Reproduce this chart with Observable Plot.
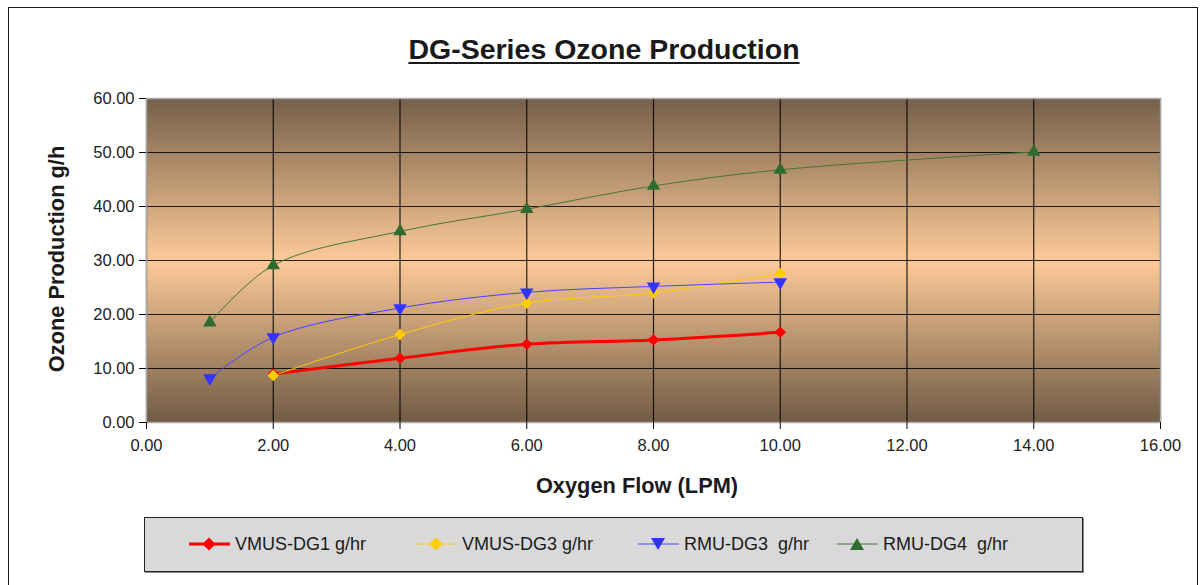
<!DOCTYPE html>
<html>
<head>
<meta charset="utf-8">
<script src="https://cdn.jsdelivr.net/npm/d3@7"></script>
<script src="https://cdn.jsdelivr.net/npm/@observablehq/plot@0.6"></script>
<style>
  html, body { margin: 0; padding: 0; background: #fff; }
  body { width: 1203px; height: 585px; overflow: hidden; position: relative; font-family: "Liberation Sans", Arial, sans-serif; color: #1a1a1a; }
  #outer { position: absolute; left: 8px; top: 7px; width: 1190px; height: 600px; border: 1.5px solid #1a1a1a; box-sizing: border-box; }
  #title { position: absolute; left: 0; width: 1208px; top: 32px; text-align: center; font-size: 28.5px; font-weight: bold; text-decoration: underline; text-underline-offset: 3px; line-height: 34px; }
  #chart { position: absolute; left: 0; top: 0; }
  #ylab { position: absolute; left: 57px; top: 259px; transform: translate(-50%, -50%) rotate(-90deg); font-size: 21.8px; font-weight: bold; white-space: nowrap; }
  #xlab { position: absolute; left: 637px; top: 486px; transform: translate(-50%, -50%); font-size: 21.8px; font-weight: bold; white-space: nowrap; }
  #legend { position: absolute; left: 144px; top: 517px; width: 939px; height: 55px; background: #d9d9d9; border: 1.5px solid #222; box-sizing: border-box; box-shadow: 1px 1px 0 #888; }
  .item { position: absolute; top: 0; height: 52px; display: flex; align-items: center; font-size: 18px; white-space: pre; }
  .item svg { margin-right: 5px; }
</style>
</head>
<body>
<div id="outer"></div>
<div id="title">DG-Series Ozone Production</div>
<div id="chart"></div>
<div id="ylab">Ozone Production g/h</div>
<div id="xlab">Oxygen Flow (LPM)</div>
<div id="legend"></div>
<script>
// ---- data ----
const seriesNames = ["VMUS-DG1 g/hr", "VMUS-DG3 g/hr", "RMU-DG3  g/hr", "RMU-DG4  g/hr"];
const vmusDg1Flow = [2, 4, 6, 8, 10];
const vmusDg1Ozone = [9.0, 11.9, 14.5, 15.3, 16.7];
const vmusDg3Flow = [2, 4, 6, 8, 10];
const vmusDg3Ozone = [8.7, 16.3, 22.1, 24.0, 27.6];
const rmuDg3Flow = [1, 2, 4, 6, 8, 10];
const rmuDg3Ozone = [8.2, 15.8, 21.2, 24.1, 25.2, 26.0];
const rmuDg4Flow = [1, 2, 4, 6, 8, 10, 14];
const rmuDg4Ozone = [18.5, 29.1, 35.4, 39.5, 43.8, 46.8, 50.1];
const xTicks = [0, 2, 4, 6, 8, 10, 12, 14, 16];
const yTicks = [0, 10, 20, 30, 40, 50, 60];

// ---- styles ----
const styles = [
  {name: seriesNames[0], flow: vmusDg1Flow, ozone: vmusDg1Ozone, color: "#ff0000", line: "#ff0000", width: 3, symbol: "square", rotate: 45, r: 4.6},
  {name: seriesNames[1], flow: vmusDg3Flow, ozone: vmusDg3Ozone, color: "#ffcc00", line: "#ffcc00", width: 1, symbol: "square", rotate: 45, r: 4.6},
  {name: seriesNames[2], flow: rmuDg3Flow, ozone: rmuDg3Ozone, color: "#3333ff", line: "#4444ff", width: 1, symbol: "triangle", rotate: 180, r: 5},
  {name: seriesNames[3], flow: rmuDg4Flow, ozone: rmuDg4Ozone, color: "#2f6a2f", line: "#44743a", width: 1, symbol: "triangle", rotate: 0, r: 5}
];

const fmt = d3.format(".2f");
const seriesMarks = [];
for (const s of styles) {
  const rows = s.flow.map((f, i) => ({flow: f, ozone: s.ozone[i]}));
  seriesMarks.push(Plot.line(rows, {x: "flow", y: "ozone", stroke: s.line, strokeWidth: s.width, curve: "catmull-rom"}));
}
for (const s of styles) {
  const rows = s.flow.map((f, i) => ({flow: f, ozone: s.ozone[i]}));
  seriesMarks.push(Plot.dot(rows, {x: "flow", y: "ozone", symbol: () => s.symbol, fill: s.color, stroke: "none", r: s.r, rotate: s.rotate}));
}

const chart = Plot.plot({
  width: 1203,
  height: 500,
  marginLeft: 146,
  marginRight: 43,
  marginTop: 98,
  marginBottom: 78,
  style: {fontFamily: "'Liberation Sans', Arial, sans-serif", color: "#222", background: "transparent"},
  x: {domain: [0, 16], label: null},
  y: {domain: [0, 60], label: null},
  marks: [
    Plot.frame({fill: "url(#bgGrad)"}),
    Plot.gridX(xTicks, {stroke: "#000", strokeOpacity: 0.85, strokeWidth: 1.2}),
    Plot.gridY(yTicks, {stroke: "#000", strokeOpacity: 0.85, strokeWidth: 1.2}),
    Plot.frame({stroke: "#aaaaaa", strokeWidth: 1.5}),
    Plot.axisX(xTicks, {tickFormat: fmt, tickSize: 7, tickPadding: 10, fontSize: 16.5, stroke: "#000", label: null}),
    Plot.axisY(yTicks, {tickFormat: fmt, tickSize: 7, tickPadding: 5, fontSize: 16.5, stroke: "#000", label: null}),
    ...seriesMarks
  ]
});

// gradient definition for plot background
const ns = "http://www.w3.org/2000/svg";
const defs = document.createElementNS(ns, "defs");
defs.innerHTML = `<linearGradient id="bgGrad" x1="0" y1="0" x2="0" y2="1">
  <stop offset="0%" stop-color="#76604a"/>
  <stop offset="50%" stop-color="#fdca98"/>
  <stop offset="100%" stop-color="#715b45"/>
</linearGradient>`;
chart.insertBefore(defs, chart.firstChild);
document.getElementById("chart").appendChild(chart);

// ---- legend ----
const legend = document.getElementById("legend");
const legendX = [44, 271, 493, 692];
styles.forEach((s, i) => {
  const item = document.createElement("div");
  item.className = "item";
  item.style.left = legendX[i] + "px";
  const sym = s.symbol === "triangle"
    ? (s.rotate === 180 ? `<path d="M13,6 L27,6 L20,18 Z" fill="${s.color}"/>` : `<path d="M20,6 L27,18 L13,18 Z" fill="${s.color}"/>`)
    : `<path d="M20,5.5 L26.5,12 L20,18.5 L13.5,12 Z" fill="${s.color}"/>`;
  item.innerHTML = `<svg width="41" height="24"><line x1="0" x2="41" y1="12" y2="12" stroke="${s.line}" stroke-width="${s.width}"/>${sym}</svg>${s.name}`;
  legend.appendChild(item);
});
</script>
</body>
</html>
